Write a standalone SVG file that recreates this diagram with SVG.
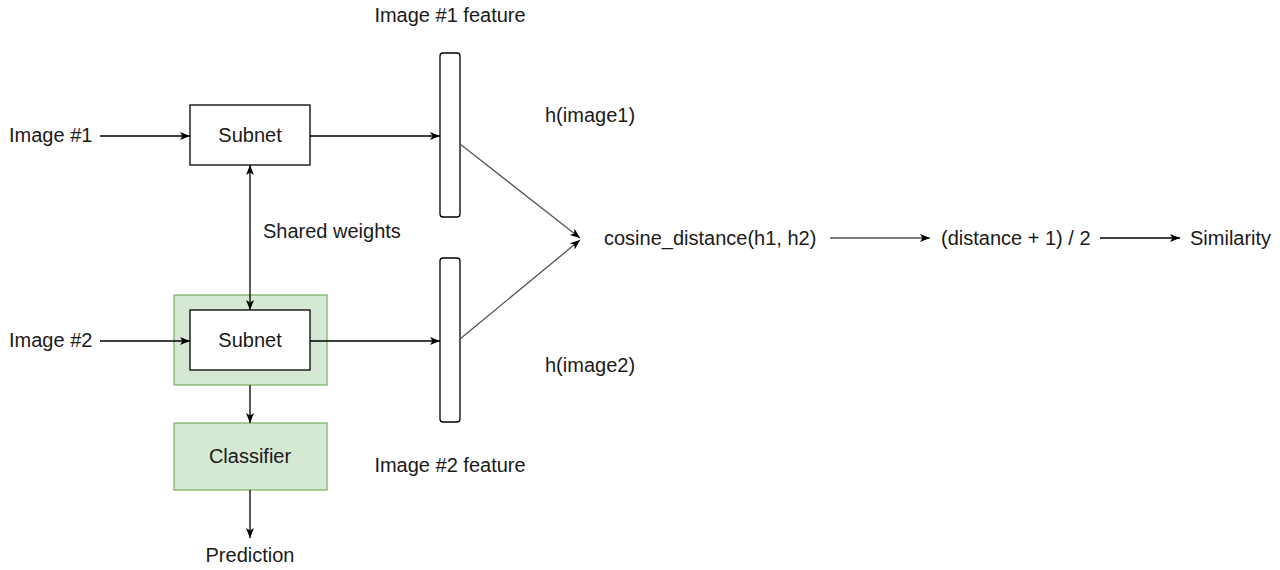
<svg xmlns="http://www.w3.org/2000/svg" width="1280" height="570" viewBox="0 0 1280 570">
<style>
text{font-family:"Liberation Sans",Arial,sans-serif;font-size:20px;fill:#1a1a1a}
.c{text-anchor:middle}
.box{fill:#fff;stroke:#000;stroke-width:1.3}
.green{fill:#d5e8d4;stroke:#82b366;stroke-width:1.3}
.bar{fill:#fff;stroke:#000;stroke-width:1.3}
.e{fill:none;stroke:#000;stroke-width:1.3}
.g{fill:none;stroke:#555;stroke-width:1.3}
</style>
<defs>
<marker id="a" viewBox="0 0 10 10" refX="10" refY="5" markerWidth="10" markerHeight="10" markerUnits="userSpaceOnUse" orient="auto-start-reverse">
<path d="M0,1 L10,5 L0,9 L2.5,5 Z" fill="#000"/>
</marker>
</defs>
<rect width="1280" height="570" fill="#fff"/>
<g id="subnet2-group"><rect class="green" x="174" y="295" width="153" height="90"/></g>
<g id="subnet1"><rect class="box" x="190" y="105" width="120" height="60"/><text class="c" x="250" y="142">Subnet</text></g>
<g id="subnet2"><rect class="box" x="190" y="310" width="120" height="60"/><text class="c" x="250" y="347">Subnet</text></g>
<g id="classifier"><rect class="green" x="174" y="423" width="153" height="67"/><text class="c" x="250" y="463">Classifier</text></g>
<g id="feature1"><rect class="bar" x="440" y="53" width="20" height="164" rx="3"/></g>
<g id="feature2"><rect class="bar" x="440" y="258" width="20" height="164" rx="3"/></g>
<g id="image1"><text x="9" y="142">Image #1</text></g>
<g id="image2"><text x="9" y="347">Image #2</text></g>
<g id="shared"><text x="263" y="238">Shared weights</text></g>
<g id="prediction"><text class="c" x="250" y="562">Prediction</text></g>
<g id="f1label"><text class="c" x="450" y="22">Image #1 feature</text></g>
<g id="f2label"><text class="c" x="450" y="472">Image #2 feature</text></g>
<g id="h1"><text x="545" y="122">h(image1)</text></g>
<g id="h2"><text x="545" y="372">h(image2)</text></g>
<g id="cosine"><text x="604" y="245">cosine_distance(h1, h2)</text></g>
<g id="norm"><text x="941" y="245">(distance + 1) / 2</text></g>
<g id="similarity"><text x="1190" y="245">Similarity</text></g>
<g id="connectors">
<line class="e" x1="100" y1="136" x2="190" y2="136" marker-end="url(#a)"/>
<line class="e" x1="310" y1="136" x2="440" y2="136" marker-end="url(#a)"/>
<line class="e" x1="100" y1="341" x2="190" y2="341" marker-end="url(#a)"/>
<line class="e" x1="310" y1="341" x2="440" y2="341" marker-end="url(#a)"/>
<line class="e" x1="250" y1="165" x2="250" y2="310" marker-start="url(#a)" marker-end="url(#a)"/>
<line class="e" x1="250" y1="385" x2="250" y2="423" marker-end="url(#a)"/>
<line class="e" x1="250" y1="490" x2="250" y2="538" marker-end="url(#a)"/>
<line class="g" x1="460" y1="144" x2="580" y2="238" marker-end="url(#a)"/>
<line class="g" x1="460" y1="339" x2="580" y2="240" marker-end="url(#a)"/>
<line class="g" x1="830" y1="238" x2="930" y2="238" marker-end="url(#a)"/>
<line class="e" x1="1100" y1="238" x2="1180" y2="238" marker-end="url(#a)"/>
</g>
</svg>
